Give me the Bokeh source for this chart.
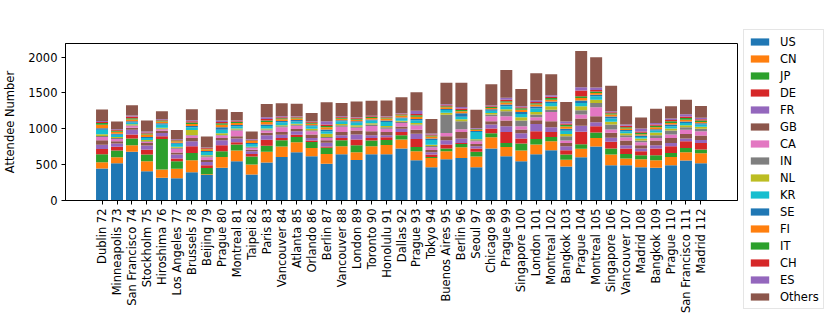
from bokeh.plotting import figure
from bokeh.models import Legend, LegendItem, FixedTicker, Range1d, ColumnDataSource
from bokeh.embed import file_html
from bokeh.resources import INLINE

cities = ["Dublin", "Minneapolis", "San Francisco", "Stockholm", "Hiroshima", "Los Angeles",
          "Brussels", "Beijing", "Prague", "Montreal", "Taipei", "Paris", "Vancouver", "Atlanta",
          "Orlando", "Berlin", "Vancouver", "London", "Toronto", "Honolulu", "Dallas", "Prague",
          "Tokyo", "Buenos Aires", "Berlin", "Seoul", "Chicago", "Prague", "Singapore", "London",
          "Montreal", "Bangkok", "Prague", "Montreal", "Singapore", "Vancouver", "Madrid",
          "Bangkok", "Prague", "San Francisco", "Madrid"]
meetings = [72, 73, 74, 75, 76, 77, 78, 79, 80, 81, 82, 83, 84, 85, 86, 87, 88, 89, 90, 91, 92,
            93, 94, 95, 96, 97, 98, 99, 100, 101, 102, 103, 104, 105, 106, 107, 108, 109, 110,
            111, 112]

US = [446, 520, 678, 409, 316, 311, 395, 357, 455, 548, 362, 529, 608, 673, 617, 511, 645, 566, 645, 645,
      724, 562, 464, 576, 594, 464, 724, 617, 548, 645, 701, 474, 604, 752, 492, 492, 464, 455, 492, 557, 520]
CN = [88, 84, 93, 139, 116, 130, 167, 9, 153, 149, 139, 149, 144, 139, 116, 139, 111, 107, 111, 130,
      125, 125, 130, 111, 149, 149, 158, 130, 149, 135, 125, 93, 116, 121, 149, 93, 111, 107, 116, 116, 139]
JP = [111, 93, 93, 93, 427, 107, 102, 88, 79, 84, 111, 84, 88, 74, 84, 84, 84, 98, 79, 70,
      60, 60, 14, 37, 46, 65, 56, 56, 98, 79, 60, 74, 65, 74, 84, 65, 56, 70, 56, 60, 51]
DE = [74, 51, 56, 65, 37, 37, 93, 37, 84, 32, 37, 84, 32, 32, 19, 19, 32, 79, 37, 37,
      46, 111, 32, 56, 14, 46, 65, 153, 70, 107, 70, 60, 172, 88, 93, 74, 56, 93, 93, 93, 93]
FR = [60, 46, 65, 60, 46, 56, 70, 46, 70, 51, 37, 65, 46, 46, 37, 51, 37, 70, 37, 28,
      46, 74, 32, 60, 60, 32, 56, 79, 74, 102, 65, 56, 84, 56, 56, 46, 37, 46, 46, 37, 42]
GB = [60, 32, 28, 37, 32, 28, 46, 28, 32, 32, 23, 32, 37, 32, 46, 37, 46, 56, 56, 46,
      32, 56, 32, 56, 93, 32, 46, 79, 51, 51, 84, 46, 102, 84, 70, 65, 46, 65, 70, 65, 60]
CA = [46, 32, 28, 14, 19, 51, 32, 37, 32, 79, 23, 32, 65, 46, 46, 32, 74, 37, 74, 46,
      46, 56, 37, 46, 37, 37, 70, 60, 46, 42, 130, 32, 56, 125, 46, 46, 42, 37, 46, 60, 60]
IN = [14, 14, 9, 9, 9, 14, 9, 14, 9, 14, 9, 14, 14, 14, 14, 14, 19, 14, 19, 19,
      19, 14, 19, 255, 111, 14, 23, 70, 79, 37, 32, 60, 60, 60, 70, 28, 23, 37, 56, 32, 37]
NL = [23, 14, 14, 19, 14, 14, 70, 14, 23, 14, 9, 14, 14, 14, 23, 42, 19, 23, 19, 19,
      14, 23, 19, 28, 28, 14, 23, 28, 46, 37, 46, 32, 56, 46, 37, 28, 28, 37, 28, 28, 28]
KR = [65, 32, 23, 28, 42, 42, 37, 46, 51, 32, 37, 37, 42, 32, 32, 37, 37, 37, 37, 56,
      32, 37, 65, 37, 37, 102, 32, 42, 46, 46, 46, 46, 46, 46, 46, 28, 23, 28, 32, 32, 28]
SE = [19, 14, 19, 14, 19, 14, 19, 14, 32, 19, 14, 19, 19, 19, 14, 23, 14, 19, 14, 19,
      14, 19, 19, 14, 46, 14, 19, 23, 28, 28, 23, 28, 32, 23, 28, 19, 19, 19, 23, 23, 19]
FI = [51, 28, 23, 32, 23, 23, 28, 23, 37, 28, 28, 37, 23, 23, 23, 32, 23, 19, 23, 28,
      28, 32, 28, 23, 28, 14, 19, 28, 32, 28, 23, 32, 37, 23, 28, 19, 19, 28, 23, 23, 19]
IT = [23, 14, 19, 14, 14, 9, 19, 9, 19, 14, 9, 19, 14, 14, 14, 19, 14, 14, 14, 14,
      14, 19, 14, 14, 19, 9, 14, 19, 19, 19, 23, 23, 23, 23, 19, 19, 19, 19, 23, 23, 19]
CH = [14, 9, 23, 14, 9, 9, 19, 9, 19, 9, 9, 23, 14, 9, 9, 19, 9, 14, 9, 9,
      9, 19, 14, 14, 19, 9, 9, 19, 14, 19, 19, 19, 79, 19, 14, 19, 19, 19, 19, 23, 19]
ES = [14, 9, 14, 14, 9, 9, 14, 9, 19, 9, 9, 23, 14, 9, 9, 46, 9, 9, 9, 9,
      9, 46, 14, 14, 23, 9, 9, 28, 14, 19, 19, 28, 46, 37, 14, 19, 42, 19, 19, 32, 19]
Others = [162, 111, 144, 153, 111, 130, 153, 153, 158, 121, 107, 186, 181, 172, 116, 265, 186, 218, 209, 218,
          223, 255, 204, 302, 339, 255, 297, 390, 241, 381, 293, 269, 506, 422, 353, 255, 153, 200, 172, 200, 163]

series_names = ["US", "CN", "JP", "DE", "FR", "GB", "CA", "IN", "NL", "KR",
                "SE", "FI", "IT", "CH", "ES", "Others"]
series_values = [US, CN, JP, DE, FR, GB, CA, IN, NL, KR, SE, FI, IT, CH, ES, Others]
tab10 = ["#1f77b4", "#ff7f0e", "#2ca02c", "#d62728", "#9467bd",
         "#8c564b", "#e377c2", "#7f7f7f", "#bcbd22", "#17becf"]
colors = [tab10[i % 10] for i in range(len(series_names))]

xs = list(range(len(cities)))
data = {"x": xs}
for n, v in zip(series_names, series_values):
    data[n] = v
src = ColumnDataSource(data)

FONT = "DejaVu Sans"
FS = "11.5px"
p = figure(frame_width=672, frame_height=157, output_backend="svg", toolbar_location=None,
           x_range=Range1d(-2.44, 42.44), y_range=Range1d(0, 2189),
           min_border_left=53, min_border_right=90, min_border_top=43, min_border_bottom=118)
p.background_fill_color = "white"
p.border_fill_color = "white"
p.outline_line_color = "black"
p.outline_line_width = 1
p.xgrid.visible = False
p.ygrid.visible = False

renderers = p.vbar_stack(series_names, x="x", width=0.8, color=colors, line_width=0, source=src)

labels = {i: f"{c} {m}" for i, (c, m) in enumerate(zip(cities, meetings))}
p.xaxis.ticker = FixedTicker(ticks=xs)
p.xaxis.major_label_overrides = labels
p.xaxis.major_label_orientation = 3.14159265 / 2
p.yaxis.ticker = FixedTicker(ticks=[0, 500, 1000, 1500, 2000])
p.yaxis.axis_label = "Attendee Number"

for ax in (p.xaxis[0], p.yaxis[0]):
    ax.major_label_text_font = FONT
    ax.major_label_text_font_size = FS
    ax.major_label_text_color = "black"
    ax.axis_label_text_font = FONT
    ax.axis_label_text_font_size = FS
    ax.axis_label_text_font_style = "normal"
    ax.axis_label_text_color = "black"
    ax.major_tick_in = 0
    ax.major_tick_out = 4
    ax.minor_tick_line_color = None
    ax.major_tick_line_color = "black"
    ax.axis_line_color = "black"
    ax.major_label_standoff = 4
p.yaxis.axis_label_standoff = 8

legend = Legend(items=[LegendItem(label=n, renderers=[r]) for n, r in zip(series_names, renderers)],
                location=(6, -109))
legend.glyph_width = 23
legend.glyph_height = 9
legend.label_height = 15
legend.spacing = 2
legend.padding = 4
legend.margin = 0
legend.label_standoff = 9
legend.label_text_font = FONT
legend.label_text_font_size = FS
legend.label_text_color = "black"
legend.border_line_color = "#cccccc"
legend.border_line_width = 1
legend.background_fill_color = "white"
legend.background_fill_alpha = 1.0
p.add_layout(legend, "right")

open("out.html", "w").write(file_html(p, INLINE))
